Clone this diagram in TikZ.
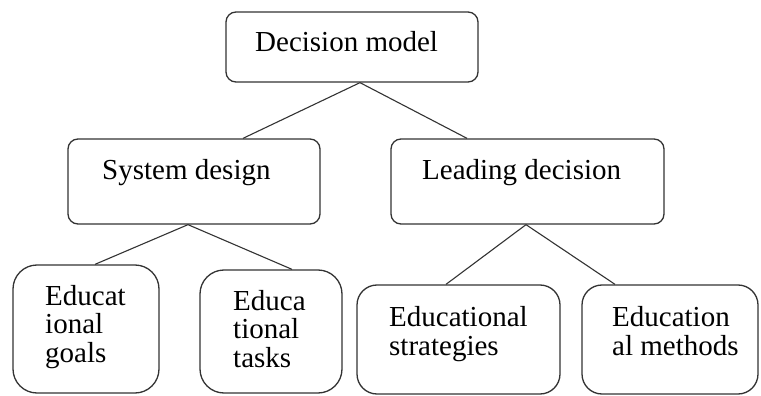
\documentclass[tikz,border=0pt]{standalone}
\usepackage{fontspec}
\setmainfont{Liberation Serif}
\begin{document}
\begin{tikzpicture}[x=1pt,y=-1pt,
  box/.style={draw=black!80, line width=1.3pt, fill=white, inner sep=0pt},
  link/.style={draw=black!80, line width=1.1pt},
  lbl/.style={inner sep=0pt, anchor=base west, align=left, font=\fontsize{29}{28.5}\selectfont}]
\useasboundingbox[fill=white] (0,0) rectangle (761,396);
% boxes
\node[box, rounded corners=10pt, minimum width=252pt, minimum height=70pt] (dm) at (352,47) {};
\node[box, rounded corners=10pt, minimum width=252pt, minimum height=85pt] (sd) at (194,181.5) {};
\node[box, rounded corners=10pt, minimum width=273pt, minimum height=85pt] (ld) at (527.5,181.5) {};
\node[box, rounded corners=24pt, minimum width=146pt, minimum height=128pt] (eg) at (86,329) {};
\node[box, rounded corners=24pt, minimum width=142pt, minimum height=123pt] (et) at (271,331.5) {};
\node[box, rounded corners=20pt, minimum width=203pt, minimum height=109pt] (es) at (458.5,339.5) {};
\node[box, rounded corners=20pt, minimum width=176pt, minimum height=109pt] (em) at (670,339.5) {};
% texts (base = baseline of last line)
\node[lbl] (tdm) at (255,52) {Decision model};
\node[lbl] (tsd) at (102,179) {System design};
\node[lbl] (tld) at (422,179) {Leading decision};
\node[lbl] (teg) at (45,362) {Educat\\ional\\goals};
\node[lbl] (tet) at (233,367) {Educa\\tional\\tasks};
\node[lbl] (tes) at (389,355) {Educational\\strategies};
\node[lbl] (tem) at (612,355) {Education\\al methods};
% connectors
\draw[link] ([xshift=8pt]dm.south) -- ([xshift=49pt]sd.north);
\draw[link] ([xshift=8pt]dm.south) -- ([xshift=-60.5pt]ld.north);
\draw[link] ([xshift=-6pt]sd.south) -- ([xshift=9pt]eg.north);
\draw[link] ([xshift=-6pt]sd.south) -- ([xshift=21pt]et.north);
\draw[link] ([xshift=-1.5pt]ld.south) -- ([xshift=-12.5pt]es.north);
\draw[link] ([xshift=-1.5pt]ld.south) -- ([xshift=-55pt]em.north);
\end{tikzpicture}
\end{document}
